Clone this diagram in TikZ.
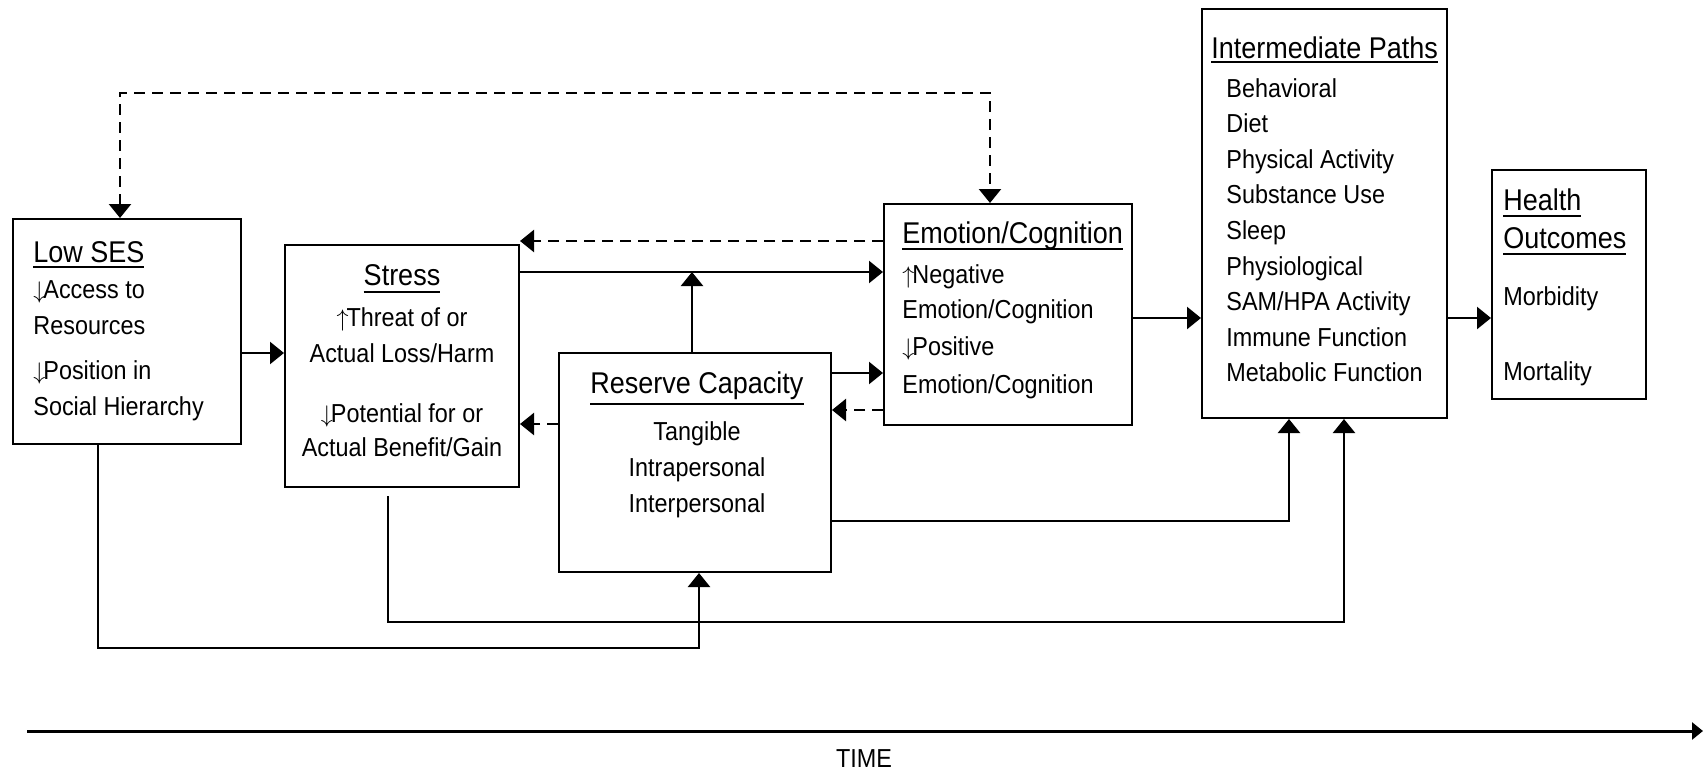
\documentclass[tikz,border=0pt]{standalone}
\usepackage{fontspec}
\setmainfont{Liberation Sans}[FakeStretch=0.9]
\usetikzlibrary{arrows.meta}

% type sizes for box bodies and box headings
\newcommand\bodysize{\fontsize{13pt}{18pt}\selectfont}
\newcommand\headsize{\fontsize{15pt}{18pt}\selectfont}
% heading underline, optional depth below the baseline
\newcommand\hdul[2][3pt]{\setbox0=\hbox{#2}\rlap{\rule[-#1]{\wd0}{0.9pt}}\box0}
% small increase / decrease arrows
\newcommand\dnar{$\downarrow$\kern-1pt}
\newcommand\uparr{$\uparrow$\kern-1pt}

\begin{document}
\begin{tikzpicture}[x=0.5pt,y=-0.5pt,font=\bodysize,
  box/.style={draw,line width=1pt,inner sep=0pt,rectangle},
  conn/.style={line width=1.2pt},
  arr/.style={conn,-{Triangle[length=7pt,width=11pt]}},
  dblarr/.style={conn,{Triangle[length=7pt,width=11pt]}-{Triangle[length=7pt,width=11pt]}},
  dsh/.style={dash pattern=on 5.5pt off 3.5pt},
  txt/.style={inner sep=0pt,anchor=base west},
  ctxt/.style={inner sep=0pt,anchor=base}]

\useasboundingbox (0,0) rectangle (1704,772);

% boxes
\node[box,minimum width=114pt,minimum height=112.5pt] (lowses) at (127,331.5) {};
\node[box,minimum width=117pt,minimum height=121pt] (stress) at (402,366) {};
\node[box,minimum width=124pt,minimum height=110.5pt] (emo) at (1008,314.5) {};
\node[box,minimum width=136pt,minimum height=109.5pt] (reserve) at (695,462.5) {};
\node[box,minimum width=122.5pt,minimum height=204.5pt] (inter) at (1324.5,213.5) {};
\node[box,minimum width=77pt,minimum height=114.5pt] (health) at (1569,284.5) {};

% box texts
\node[txt] (lowsesT) at (33,262) {\begin{tabular}[t]{@{}l@{}}{\headsize\hdul{Low SES}}\\
  \dnar Access to\\ Resources\\[4.5pt] \dnar Position in\\ Social Hierarchy\end{tabular}};
\node[ctxt] (stressT) at (402,285) {\begin{tabular}[t]{@{}c@{}}{\headsize\hdul[4pt]{Stress}}\\[2.5pt]
  \uparr Threat of or\\ Actual Loss/Harm\\[12pt] \dnar Potential for or\\[-1pt]
  Actual Benefit/Gain\end{tabular}};
\node[txt] (emoT) at (902,243) {\begin{tabular}[t]{@{}l@{}}{\headsize\hdul[3.5pt]{Emotion/Cognition}}\\[2pt]
  \uparr Negative\\[-0.5pt] Emotion/Cognition\\[0.5pt] \dnar Positive\\[1pt]
  Emotion/Cognition\end{tabular}};
\node[ctxt] (reserveT) at (697,393) {\begin{tabular}[t]{@{}c@{}}{\headsize\hdul[6pt]{Reserve Capacity}}\\[5.5pt]
  Tangible\\ Intrapersonal\\ Interpersonal\end{tabular}};
\node[txt] (interH) at (1211,58) {\headsize\hdul[2.5pt]{Intermediate Paths}};
\node[txt] (interL) at (1226,97) {\fontsize{13pt}{17.8pt}\selectfont
  \begin{tabular}[t]{@{}l@{}}Behavioral\\ Diet\\ Physical Activity\\ Substance Use\\ Sleep\\
  Physiological\\ SAM/HPA Activity\\ Immune Function\\ Metabolic Function\end{tabular}};
\node[txt] (healthH) at (1503,210) {\headsize\begin{tabular}[t]{@{}l@{}}\hdul[3.5pt]{Health}\\[1pt]
  \hdul[3.5pt]{Outcomes}\end{tabular}};
\node[txt] (morb) at (1503,305) {Morbidity};
\node[txt] (mort) at (1503,380) {Mortality};

% helper rows and columns for the connectors
\coordinate (y241) at (0,241);
\coordinate (y272) at (0,272);
\coordinate (y318) at (0,318);
\coordinate (y353) at (0,353);
\coordinate (y373) at (0,373);
\coordinate (y410) at (0,410);
\coordinate (y424) at (0,424);
\coordinate (y521) at (0,521);
\coordinate (topL) at (120,93);
\coordinate (topR) at (990,93);
\coordinate (jn) at (692,272);
\coordinate (resIn) at (1289,0);
\coordinate (sa) at (388,496);
\coordinate (sb) at (1344,622);
\coordinate (la) at (98,0);
\coordinate (lb) at (699,648);

% connectors
\draw[arr] (lowses.east |- y353) -- (stress.west |- y353);
\draw[dblarr,dsh] (lowses.north -| topL) -- (topL) -- (topR) -- (emo.north -| topR);
\draw[arr,dsh] (emo.west |- y241) -- (stress.east |- y241);
\draw[arr] (stress.east |- y272) -- (emo.west |- y272);
\draw[arr] (reserve.north -| jn) -- (jn);
\draw[arr] (reserve.east |- y373) -- (emo.west |- y373);
\draw[arr,dsh] (emo.west |- y410) -- (reserve.east |- y410);
\draw[arr,dsh] (reserve.west |- y424) -- (stress.east |- y424);
\draw[arr] (emo.east |- y318) -- (inter.west |- y318);
\draw[arr] (inter.east |- y318) -- (health.west |- y318);
\draw[arr] (reserve.east |- y521) -| (inter.south -| resIn);
\draw[arr] (sa) |- (sb) -- (inter.south -| sb);
\draw[arr] (lowses.south -| la) |- (lb) -- (reserve.south -| lb);

% time axis
\coordinate (t0) at (27,731);
\coordinate (t1) at (1703,731);
\draw[line width=1.5pt,-{Triangle[length=5.5pt,width=8.5pt]}] (t0) -- (t1);
\node[ctxt] (time) at (864,767) {TIME};
\end{tikzpicture}
\end{document}
